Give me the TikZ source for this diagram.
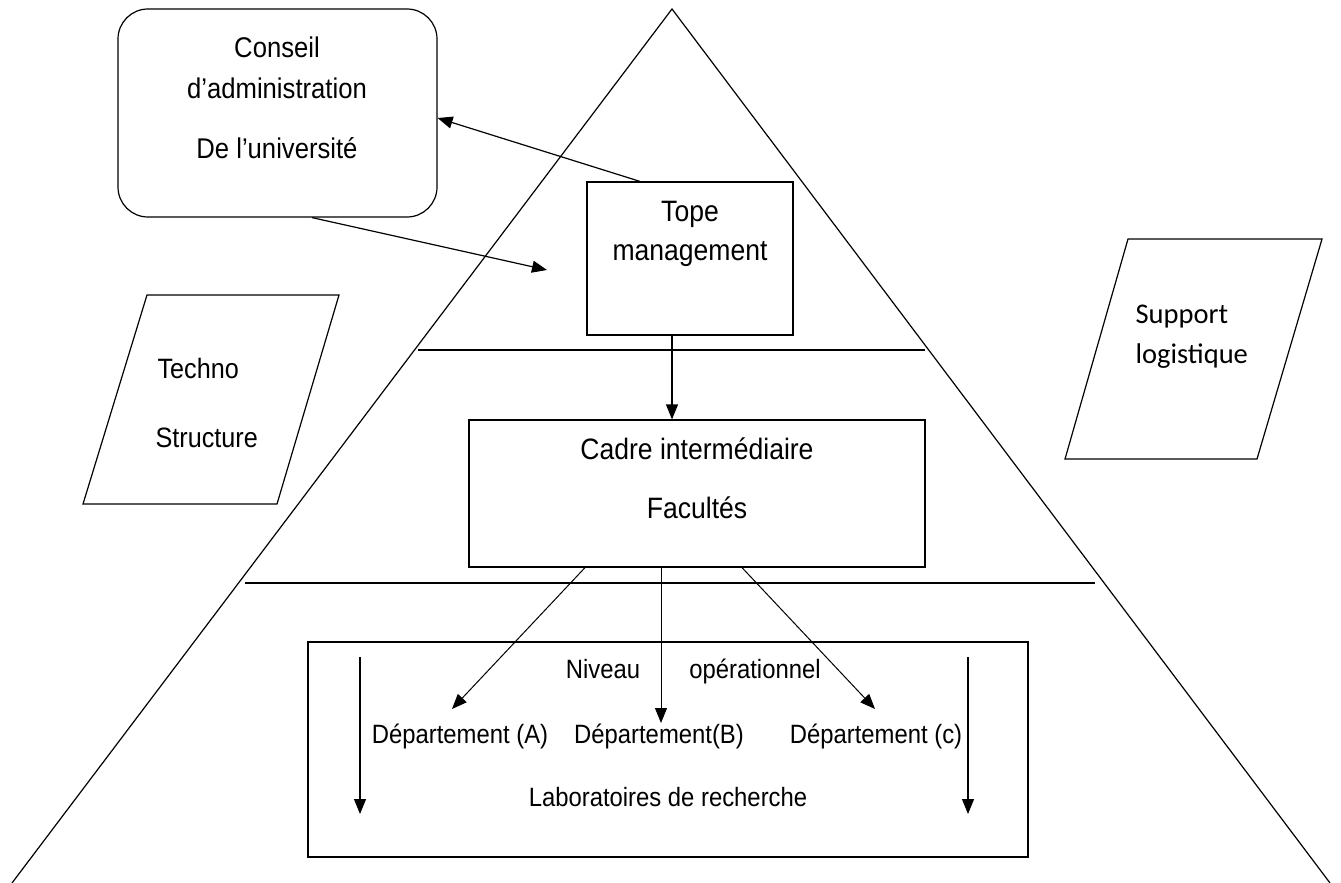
\documentclass[tikz,border=0pt]{standalone}
\usepackage{fontspec}
\setmainfont{Liberation Sans}[FakeStretch=0.9]
\newfontfamily\calfont{Carlito}
\usetikzlibrary{arrows.meta,calc}
\begin{document}
\begin{tikzpicture}[x=1pt,y=-1pt,
  line width=1.2pt,
  box/.style={draw,rectangle,inner sep=0pt},
  lbl/.style={inner sep=0pt,font=\fontsize{29.5}{35}\selectfont},
  boardlbl/.style={inner sep=0pt,font=\fontsize{28.5}{34}\selectfont},
  sidelbl/.style={inner sep=0pt,font=\fontsize{28}{34}\selectfont},
  suplbl/.style={inner sep=0pt,font=\calfont\fontsize{28.5}{34}\selectfont},
  oplbl/.style={inner sep=0pt,font=\fontsize{26.5}{32}\selectfont},
  arr/.style={-{Triangle[length=15pt,width=12pt]}},
  thin/.style={line width=1pt}]
\useasboundingbox (0,0) rectangle (1341,883);

% pyramid and its level lines
\coordinate (apex) at (672,9);
\coordinate (baseL) at (12,883);
\coordinate (baseR) at (1330,883);
\draw (baseL) -- (apex) -- (baseR);
\draw (418,350) -- (925,350);
\draw (245,583) -- (1095,583);

% board of the university
\node[box,rounded corners=30pt,minimum width=319pt,minimum height=208pt] (conseil) at (277.5,113) {};
\node[boardlbl,anchor=base] (c1) at (277,58) {Conseil};
\node[boardlbl,anchor=base] (c2) at (277,98) {d’administration};
\node[boardlbl,anchor=base] (c3) at (277,158) {De l’université};

% top management
\node[box,minimum width=206pt,minimum height=153pt] (tope) at (690,258.5) {};
\node[lbl,anchor=base] (t1) at (690,221) {Tope};
\node[lbl,anchor=base] (t2) at (690,260) {management};

% middle line
\node[box,minimum width=456pt,minimum height=147pt] (cadre) at (697,493.5) {};
\node[lbl,anchor=base] (m1) at (697,459) {Cadre intermédiaire};
\node[lbl,anchor=base] (m2) at (697,518) {Facultés};

% operational level
\node[box,minimum width=720pt,minimum height=215pt] (oper) at (668,749.5) {};
\node[oplbl,anchor=base] (o1) at (603,678) {Niveau};
\node[oplbl,anchor=base] (o2) at (755,678) {opérationnel};
\node[oplbl,anchor=base] (dA) at (460,743) {Département (A)};
\node[oplbl,anchor=base] (dB) at (659,743) {Département(B)};
\node[oplbl,anchor=base] (dC) at (876,743) {Département (c)};
\node[oplbl,anchor=base] (lab) at (668,806) {Laboratoires de recherche};

% techno-structure and support staff
\draw (147,295) -- (339,295) -- (277,504) -- (83,504) -- cycle;
\node[sidelbl,anchor=base west] (ts1) at (157,378) {Techno};
\node[sidelbl,anchor=base west] (ts2) at (155,447) {Structure};
\draw (1128,239) -- (1322,239) -- (1257,459) -- (1065,459) -- cycle;
\node[suplbl,anchor=base west] (sl1) at (1135,323) {Support};
\node[suplbl,anchor=base west] (sl2) at (1135,363) {logistique};

% links between the board and the top management
\draw[arr] ([xshift=-50pt]tope.north) -- ([yshift=-5pt]conseil.east);
\coordinate (toTope) at (547,270);
\draw[arr] ([xshift=34.5pt]conseil.south) -- (toTope);

% top management to middle line
\draw[arr] (tope.south -| 672,0) -- (cadre.north -| 672,0);

% middle line to departments
\coordinate (tipA) at (452,709);
\coordinate (tipB) at (661,723);
\coordinate (tipC) at (875,709);
\draw[arr,thin] ([xshift=-112pt]cadre.south) -- (tipA);
\draw[arr,thin] ([xshift=-36pt]cadre.south) -- (tipB);
\draw[arr,thin] ([xshift=45pt]cadre.south) -- (tipC);

% flows inside the operational level
\coordinate (lTop) at (360,657);
\coordinate (lBot) at (360,814);
\coordinate (rTop) at (968,657);
\coordinate (rBot) at (968,814);
\draw[arr] (lTop) -- (lBot);
\draw[arr] (rTop) -- (rBot);
\end{tikzpicture}
\end{document}
